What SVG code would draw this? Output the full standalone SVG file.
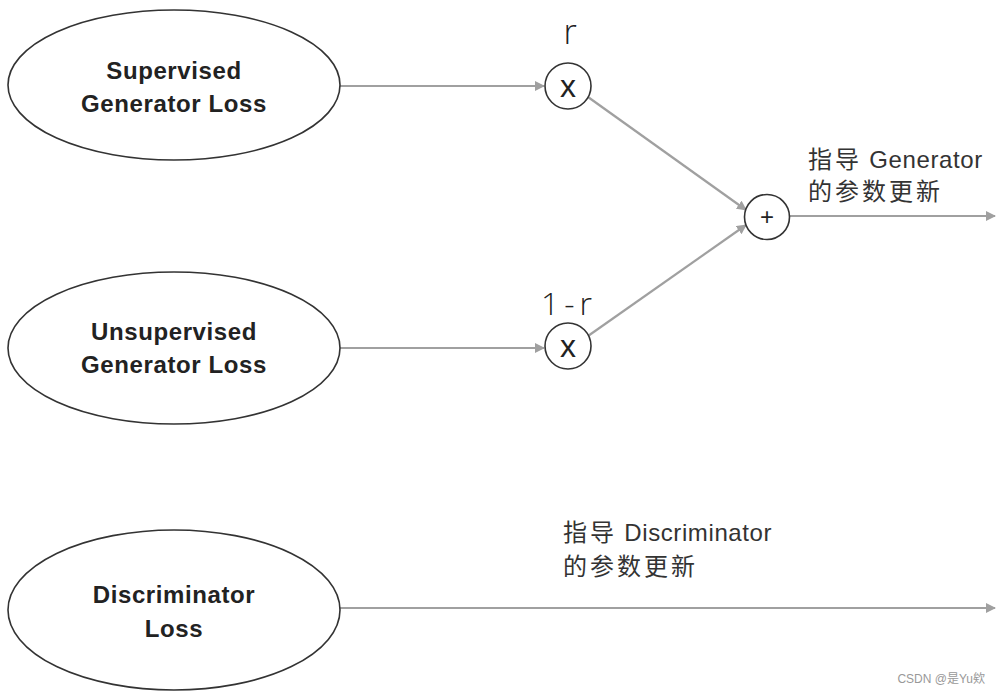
<svg xmlns="http://www.w3.org/2000/svg" width="1000" height="694" viewBox="0 0 1000 694">
<style>
.node{fill:#fff;stroke:#333;stroke-width:1.6}
.lbl{font-family:"Liberation Sans","Noto Sans",sans-serif;font-weight:bold;font-size:24px;letter-spacing:0.6px;fill:#222;text-anchor:middle}
.op{font-family:"Liberation Sans",sans-serif;font-size:32px;fill:#222;text-anchor:middle}
.w{font-family:"Open Sans","Liberation Sans",sans-serif;font-weight:300;fill:#222;text-anchor:middle}
.cn{font-family:"Liberation Sans","Noto Sans CJK SC",sans-serif;font-size:24px;letter-spacing:3px;fill:#333}
.cn .lat{letter-spacing:0.6px}
.edge{stroke:#a0a0a0;stroke-width:2.2;fill:none;marker-end:url(#arr)}
</style>
<defs>
<marker id="arr" viewBox="0 0 10 10" refX="9" refY="5" markerWidth="10" markerHeight="10" orient="auto" markerUnits="userSpaceOnUse">
<path d="M0,0L10,5L0,10z" fill="#a0a0a0"/>
</marker>
</defs>
<rect width="1000" height="694" fill="#fff"/>
<g id="connectors">
<line class="edge" x1="340" y1="86" x2="544" y2="86"/>
<line class="edge" x1="340" y1="348" x2="544" y2="348"/>
<line class="edge" x1="588" y1="97" x2="746" y2="210"/>
<line class="edge" x1="588" y1="336" x2="746" y2="225"/>
<line class="edge" x1="790" y1="216" x2="995" y2="216"/>
<line class="edge" x1="340" y1="608" x2="995" y2="608"/>
</g>
<g id="sup">
<ellipse class="node" cx="174" cy="85" rx="166" ry="75"/>
<text class="lbl" x="174" y="79">Supervised</text>
<text class="lbl" x="174" y="112">Generator Loss</text>
</g>
<g id="unsup">
<ellipse class="node" cx="174" cy="348" rx="166" ry="76"/>
<text class="lbl" x="174" y="340">Unsupervised</text>
<text class="lbl" x="174" y="373">Generator Loss</text>
</g>
<g id="disc">
<ellipse class="node" cx="174" cy="610" rx="166" ry="80"/>
<text class="lbl" x="174" y="603">Discriminator</text>
<text class="lbl" x="174" y="637">Loss</text>
</g>
<g id="mul1">
<circle class="node" cx="568" cy="86" r="23"/>
<text class="op" x="568" y="97">x</text>
<text class="w" x="570" y="44" font-size="34">r</text>
</g>
<g id="mul2">
<circle class="node" cx="568" cy="346" r="23"/>
<text class="op" x="568" y="357">x</text>
<text class="w" x="569" y="315" font-size="32" letter-spacing="5">1-r</text>
</g>
<g id="add">
<circle class="node" cx="767" cy="217" r="22.5"/>
<text class="op" x="767" y="225" style="font-size:24px">+</text>
</g>
<g id="gen-label">
<text class="cn" x="808" y="168">指导<tspan class="lat"> Generator</tspan></text>
<text class="cn" x="808" y="200">的参数更新</text>
</g>
<g id="disc-label">
<text class="cn" x="563" y="541">指导<tspan class="lat"> Discriminator</tspan></text>
<text class="cn" x="563" y="575">的参数更新</text>
</g>
<text x="985" y="683" text-anchor="end" font-family="Liberation Sans,Noto Sans CJK SC,sans-serif" font-size="12" fill="#999">CSDN @是Yu欸</text>
</svg>
